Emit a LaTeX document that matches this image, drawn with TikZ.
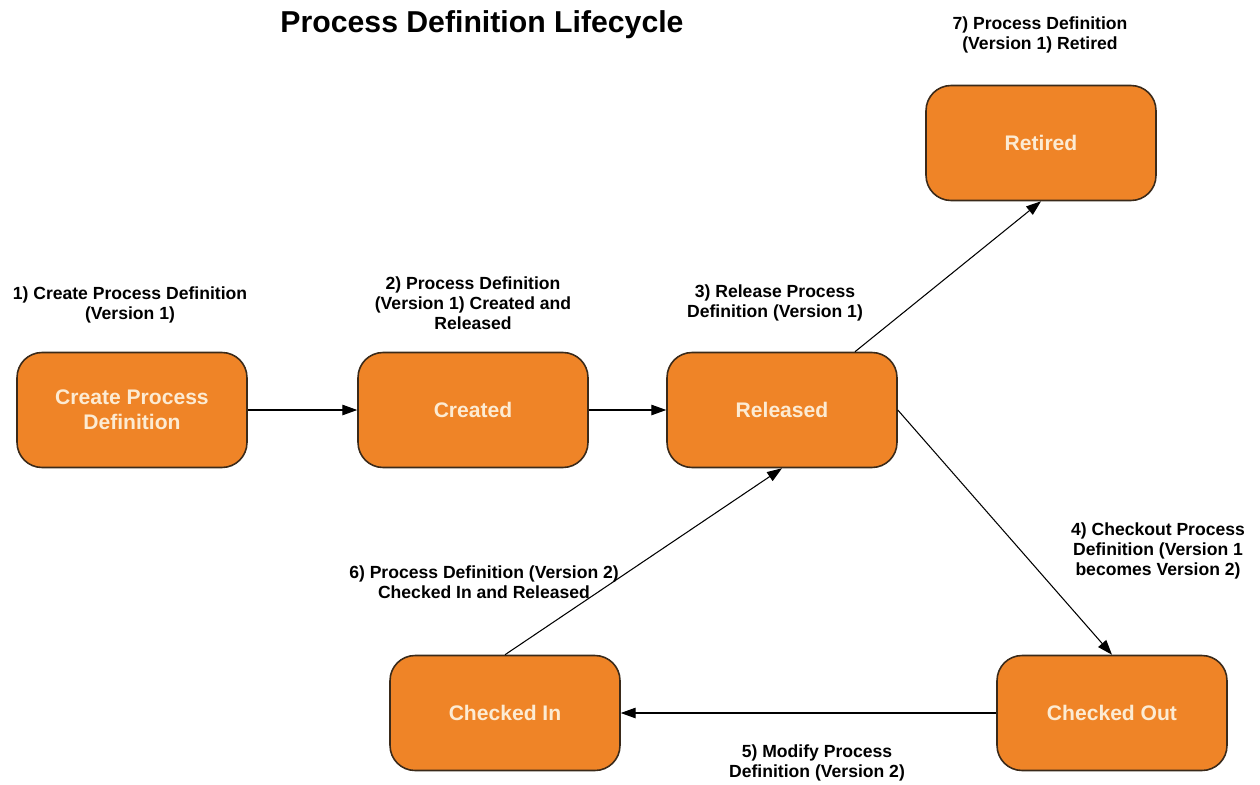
\documentclass[tikz,border=0pt]{standalone}
\usepackage{fontspec}
\setmainfont{Liberation Sans}
\usetikzlibrary{arrows.meta}
\definecolor{stateorange}{HTML}{EF8427}
\definecolor{statetext}{HTML}{FCEBD3}
\definecolor{stateline}{HTML}{3A2A1A}
\begin{document}
\begin{tikzpicture}[x=0.02cm,y=-0.02cm]
        \tikzstyle{state}=[rectangle,rounded corners=0.5cm,draw=stateline,line width=0.9pt,fill=stateorange,
          minimum width=4.6cm,minimum height=2.3cm,align=center,text=statetext,
          font=\fontsize{12}{14.2}\selectfont\bfseries]
        \tikzstyle{step label}=[align=center,font=\fontsize{10}{11.3}\selectfont\bfseries,inner sep=0pt]
        \tikzstyle{edge}=[draw,line width=0.6pt,-{Triangle[length=8.5pt,width=6pt]}]
        \useasboundingbox (0,0) rectangle (1260,784);
       \node [font=\fontsize{17.2}{20}\selectfont\bfseries] (title) at (482,25) {Process Definition Lifecycle};
       % states
       \node [state] (create) at (132,410) {Create Process\\Definition};
       \node [state] (created) at (473,410) {Created};
       \node [state] (released) at (782,410) {Released};
       \node [state] (retired) at (1041,143) {Retired};
       \node [state] (checkedin) at (505,713) {Checked In};
       \node [state] (checkedout) at (1112,713) {Checked Out};
       % step labels
       \node [step label] (l1) at (130,305) {1) Create Process Definition\\(Version 1)};
       \node [step label] (l2) at (473,303) {2) Process Definition\\(Version 1) Created and\\Released};
       \node [step label] (l3) at (775,303) {3) Release Process\\Definition (Version 1)};
       \node [step label] (l4) at (1158,551) {4) Checkout Process\\Definition (Version 1\\becomes Version 2)};
       \node [step label] (l5) at (817,763) {5) Modify Process\\Definition (Version 2)};
       \node [step label] (l6) at (484,582) {6) Process Definition (Version 2)\\Checked In and Released};
       \node [step label] (l7) at (1040,35) {7) Process Definition\\(Version 1) Retired};
       % transitions
       \path[edge] (create) -- (created);
       \path[edge] (created) -- (released);
       \path[edge] ([xshift=1.46cm]released.north) -- (retired.south);
       \path[edge] (released.east) -- (checkedout.north);
       \path[edge] (checkedout) -- (checkedin);
       \path[edge] (checkedin.north) -- (released.south);
\end{tikzpicture}
\end{document}
